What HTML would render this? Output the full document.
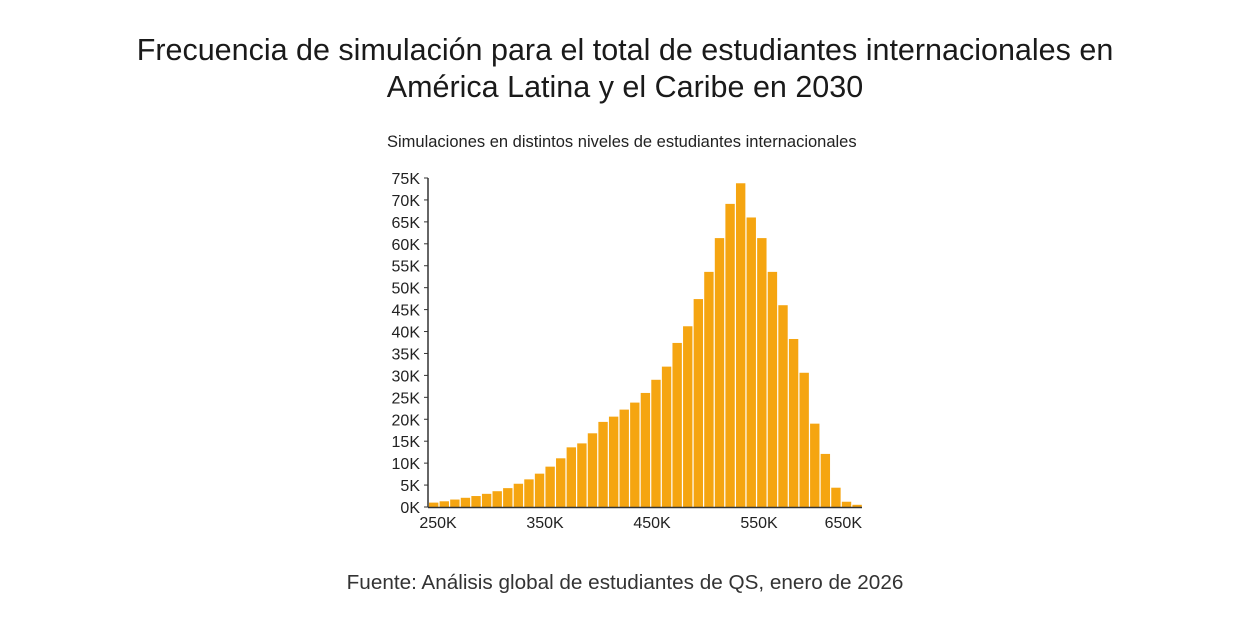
<!DOCTYPE html>
<html><head><meta charset="utf-8"><style>
html,body{margin:0;padding:0;background:#fff;width:1250px;height:631px;overflow:hidden;font-family:"Liberation Sans",sans-serif;color:#222}
.t{position:absolute;left:0;width:1250px;text-align:center}
</style></head><body>
<div class="t" style="top:32px;font-size:30.5px;line-height:37px;color:#1a1a1a">Frecuencia de simulación para el total de estudiantes internacionales en<br>América Latina y el Caribe en 2030</div>
<div style="position:absolute;left:387px;top:133px;font-size:16.5px">Simulaciones en distintos niveles de estudiantes internacionales</div>
<svg id="chart" width="1250" height="631" style="position:absolute;left:0;top:0"></svg>
<div class="t" style="top:571px;font-size:20.7px;color:#333">Fuente: Análisis global de estudiantes de QS, enero de 2026</div>
<script>
const values=[1.0,1.3,1.7,2.1,2.5,3.0,3.6,4.3,5.3,6.3,7.6,9.2,11.1,13.6,14.5,16.8,19.4,20.6,22.2,23.8,26.0,29.0,32.0,37.4,41.2,47.4,53.6,61.3,69.1,73.8,66.0,61.3,53.6,46.0,38.3,30.6,19.0,12.1,4.4,1.2,0.5];
const yTicks=[0,5,10,15,20,25,30,35,40,45,50,55,60,65,70,75];
const xTicks=[250,350,450,550,650];
const xTickLabels=["250K","350K","450K","550K","650K"];
const NS="http://www.w3.org/2000/svg";
const svg=document.getElementById('chart');
const y0=507,y1=178,left=428,right=862;
const y=v=>y0-(v/75)*(y0-y1);
const x=v=>438+(v-250)*1.07;
const pitch=(right-left)/values.length;
function mk(t,a){const e=document.createElementNS(NS,t);for(const k in a)e.setAttribute(k,a[k]);svg.appendChild(e);return e;}
values.forEach((v,i)=>{
 const r=mk('rect',{x:left+1+i*pitch,y:y(v),width:pitch-1.2,height:y0-y(v),fill:'#f5a511'});
 
 
});
const ax=mk('line',{x1:left,y1:y1,x2:left,y2:y0,stroke:'#333','stroke-width':1.5});


const bx=mk('line',{x1:left,y1:y0+0.5,x2:right,y2:y0+0.5,stroke:'#333','stroke-width':1.5});


yTicks.forEach(t=>{
 mk('line',{x1:left-4,y1:y(t),x2:left,y2:y(t),stroke:'#333','stroke-width':1});
 const tx=mk('text',{x:420,y:y(t)+6,'text-anchor':'end','font-size':16,fill:'#222','font-family':'Liberation Sans, sans-serif'});
 tx.textContent=t+'K';
 
 
});
xTicks.forEach((t,i)=>{
 let px=x(t),anchor='middle';
 if(px+20>right){px=right;anchor='end';}
 const tx=mk('text',{x:px,y:528,'text-anchor':anchor,'font-size':16,fill:'#222','font-family':'Liberation Sans, sans-serif'});
 tx.textContent=xTickLabels[i];
 
 
});
</script>
</body></html>
